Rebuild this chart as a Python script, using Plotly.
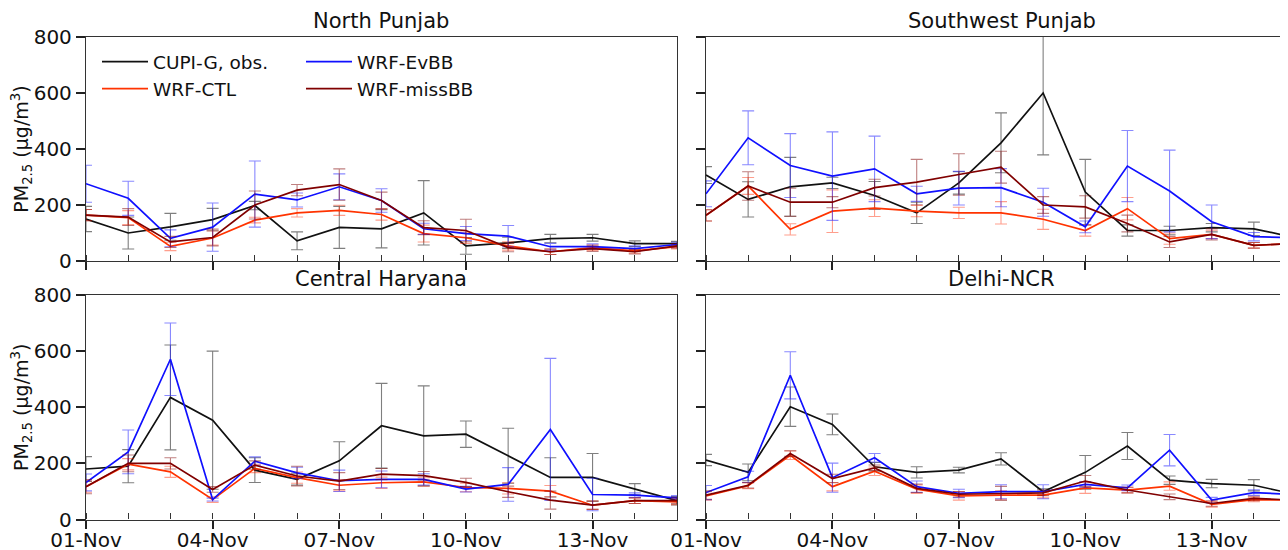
import plotly.graph_objects as go
import datetime

dates = ["2019-11-%02d" % d for d in range(1, 16)]
tick_vals = ["2019-11-01", "2019-11-04", "2019-11-07", "2019-11-10", "2019-11-13"]
tick_text = ["01-Nov", "04-Nov", "07-Nov", "10-Nov", "13-Nov"]
y_ticks = [0, 200, 400, 600, 800]

regions = ["North Punjab", "Southwest Punjab", "Central Haryana", "Delhi-NCR"]
series_names = ["CUPI-G, obs.", "WRF-CTL", "WRF-EvBB", "WRF-missBB"]

# North Punjab
np_obs = [150, 100, 122, 148, 198, 72, 120, 115, 172, 54, 65, 80, 83, 62, 62]
np_ctl = [164, 155, 52, 82, 146, 172, 181, 166, 98, 83, 54, 33, 48, 36, 51]
np_evbb = [276, 224, 81, 121, 239, 218, 265, 216, 115, 98, 89, 51, 51, 44, 59]
np_miss = [164, 157, 68, 84, 200, 253, 273, 216, 119, 109, 48, 33, 44, 33, 54]
np_obs_e = [45, 57, 48, 40, 15, 32, 75, 68, 115, 30, 20, 15, 12, 10, 8]
np_ctl_e = [20, 25, 15, 25, 10, 15, 18, 20, 30, 20, 15, 10, 10, 8, 8]
np_evbb_e = [66, 61, 30, 86, 118, 25, 46, 42, 20, 25, 38, 12, 10, 10, 8]
np_miss_e = [20, 30, 20, 30, 50, 20, 56, 30, 25, 40, 15, 10, 10, 8, 8]

# Southwest Punjab
sw_obs = [307, 220, 265, 279, 234, 172, 279, 422, 600, 246, 109, 109, 119, 115, 83]
sw_ctl = [163, 268, 113, 178, 189, 178, 172, 172, 149, 109, 187, 80, 95, 56, 63]
sw_evbb = [240, 440, 341, 303, 329, 240, 260, 262, 210, 122, 339, 250, 140, 87, 83]
sw_miss = [163, 268, 210, 210, 262, 282, 309, 335, 200, 193, 134, 68, 95, 56, 63]
sw_obs_e = [30, 63, 105, 20, 50, 38, 40, 107, 221, 117, 20, 15, 15, 24, 10]
sw_ctl_e = [20, 30, 20, 76, 30, 20, 20, 40, 36, 20, 40, 20, 15, 10, 10]
sw_evbb_e = [46, 96, 114, 158, 117, 27, 60, 68, 50, 21, 127, 146, 60, 15, 10]
sw_miss_e = [20, 51, 50, 20, 30, 81, 74, 57, 30, 40, 30, 20, 20, 10, 10]

# Central Haryana
ch_obs = [180, 190, 435, 354, 176, 143, 209, 334, 298, 304, 227, 150, 150, 108, 67]
ch_ctl = [117, 197, 170, 71, 182, 149, 122, 131, 134, 114, 111, 101, 51, 67, 63]
ch_evbb = [132, 241, 571, 71, 208, 166, 138, 143, 143, 108, 125, 321, 89, 87, 77]
ch_miss = [117, 200, 200, 107, 194, 155, 137, 162, 156, 132, 99, 69, 51, 67, 67]
ch_obs_e = [44, 59, 187, 246, 44, 20, 68, 151, 178, 47, 98, 70, 85, 20, 15]
ch_ctl_e = [20, 20, 20, 10, 15, 20, 20, 20, 15, 15, 20, 20, 15, 10, 10]
ch_evbb_e = [30, 78, 129, 5, 15, 20, 38, 30, 20, 10, 60, 253, 58, 8, 8]
ch_miss_e = [25, 30, 20, 10, 15, 35, 30, 20, 15, 15, 20, 32, 15, 10, 10]

# Delhi-NCR
dl_obs = [212, 168, 402, 339, 188, 168, 176, 216, 99, 168, 262, 140, 128, 122, 89]
dl_ctl = [84, 120, 229, 117, 172, 108, 84, 87, 87, 113, 105, 119, 54, 71, 69]
dl_evbb = [96, 152, 514, 149, 220, 117, 93, 99, 99, 125, 113, 247, 69, 96, 89]
dl_miss = [87, 122, 235, 146, 184, 111, 90, 93, 95, 137, 105, 81, 57, 75, 69]
dl_obs_e = [20, 30, 70, 37, 15, 20, 10, 22, 10, 60, 48, 15, 15, 20, 10]
dl_ctl_e = [15, 10, 15, 15, 15, 15, 15, 15, 10, 20, 10, 15, 10, 8, 8]
dl_evbb_e = [25, 20, 84, 52, 15, 20, 15, 25, 25, 10, 10, 56, 10, 10, 8]
dl_miss_e = [15, 10, 10, 15, 10, 15, 10, 25, 10, 20, 10, 10, 10, 8, 8]

panels = [
    (np_obs, np_ctl, np_evbb, np_miss, np_obs_e, np_ctl_e, np_evbb_e, np_miss_e),
    (sw_obs, sw_ctl, sw_evbb, sw_miss, sw_obs_e, sw_ctl_e, sw_evbb_e, sw_miss_e),
    (ch_obs, ch_ctl, ch_evbb, ch_miss, ch_obs_e, ch_ctl_e, ch_evbb_e, ch_miss_e),
    (dl_obs, dl_ctl, dl_evbb, dl_miss, dl_obs_e, dl_ctl_e, dl_evbb_e, dl_miss_e),
]

colors = ["#111111", "#ff3300", "#1010ff", "#800000"]
err_colors = ["rgba(0,0,0,0.5)", "rgba(255,40,0,0.45)", "rgba(20,20,255,0.5)", "rgba(128,0,0,0.5)"]
legend_ids = ["legend", "legend", "legend2", "legend2"]

# the page body has an 8px margin, so figure coords = screen coords - 8
W, H = 1288, 550
OFF = 8
xdom = [[(86 - OFF) / W, (677 - OFF) / W], [(706 - OFF) / W, 1.0]]
ydom = [[1 - (261 - OFF) / H, 1 - (37 - OFF) / H],
        [1 - (519.5 - OFF) / H, 1 - (295 - OFF) / H]]

fig = go.Figure()
font_family = "DejaVu Sans"

for p, vals in enumerate(panels):
    axn = "" if p == 0 else str(p + 1)
    for s in range(4):
        fig.add_trace(go.Scatter(
            x=dates, y=vals[s], mode="lines",
            name=series_names[s],
            line=dict(color=colors[s], width=1.7),
            error_y=dict(type="data", array=vals[s + 4], visible=True,
                         color=err_colors[s], thickness=1.1, width=6),
            xaxis="x" + axn, yaxis="y" + axn,
            showlegend=(p == 0), legend=legend_ids[s],
        ))

start = datetime.datetime(2019, 11, 1)
end = start + datetime.timedelta(days=14)

layout = dict(
    width=W, height=H,
    margin=dict(l=0, r=0, t=0, b=0, autoexpand=False),
    paper_bgcolor="white", plot_bgcolor="white",
    font=dict(family=font_family, size=20, color="#111111"),
    showlegend=True,
)

for p in range(4):
    col = p % 2
    row = p // 2
    axn = "" if p == 0 else str(p + 1)
    layout["xaxis" + axn] = dict(
        domain=xdom[col], anchor="y" + axn, type="date", range=[start, end],
        automargin=False,
        tickvals=tick_vals, ticktext=tick_text,
        showticklabels=(row == 1), ticks="outside", ticklen=8, tickwidth=1.5,
        tickcolor="#222", showline=True, linecolor="#333", linewidth=1.3,
        mirror=True, showgrid=False, zeroline=False,
        tickfont=dict(size=20), ticklabelstandoff=-6,
        minor=dict(ticks="inside", ticklen=6, tickwidth=1.2, tickcolor="#333",
                   dtick=86400000, tick0="2019-11-01", showgrid=False),
    )
    layout["yaxis" + axn] = dict(
        domain=ydom[row], anchor="x" + axn, range=[0, 800],
        automargin=False,
        tickvals=y_ticks, showticklabels=(col == 0),
        ticks="outside", ticklen=9, tickwidth=1.5, tickcolor="#222",
        showline=True, linecolor="#333", linewidth=1.3,
        mirror=(col == 0), showgrid=False, zeroline=False,
        tickfont=dict(size=20),
    )
    if col == 0:
        layout["yaxis" + axn]["title"] = dict(
            text="PM<sub>2.5</sub> (μg/m<sup>3</sup>)", font=dict(size=19), standoff=4)

fig.update_layout(**layout)

title_x = [(86 + 677) / 2 / W - OFF / W, (706 + 1297) / 2 / W - OFF / W]
for p, name in enumerate(regions):
    col = p % 2
    row = p // 2
    fig.add_annotation(text=name, xref="paper", yref="paper",
                       x=title_x[col], y=ydom[row][1], xanchor="center",
                       yanchor="bottom", yshift=2, showarrow=False,
                       font=dict(size=21, family=font_family))

fig.update_layout(
    legend=dict(x=89 / W, y=1 - 35 / H, xanchor="left", yanchor="top",
                bgcolor="rgba(0,0,0,0)", font=dict(size=18.5), itemwidth=46,
                tracegroupgap=0),
    legend2=dict(x=293 / W, y=1 - 35 / H, xanchor="left", yanchor="top",
                 bgcolor="rgba(0,0,0,0)", font=dict(size=18.5), itemwidth=46,
                 tracegroupgap=0),
)

fig.write_html("out.html")
